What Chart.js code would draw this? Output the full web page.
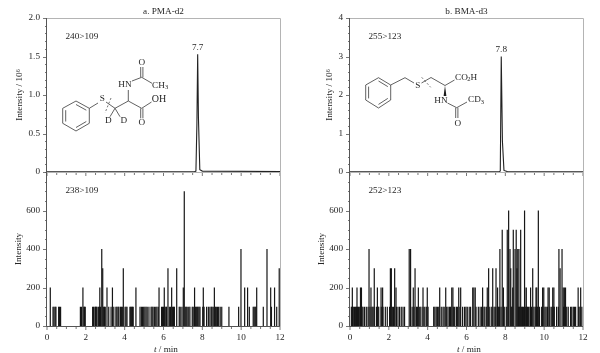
<!DOCTYPE html>
<html>
<head>
<meta charset="utf-8">
<title>PMA-d2 and BMA-d3</title>
<script src="https://cdn.jsdelivr.net/npm/chart.js@4/dist/chart.umd.min.js"></script>
<style>
  html, body { margin: 0; padding: 0; background: #fff; }
  #wrap { position: relative; width: 600px; height: 353px; overflow: hidden; }
  canvas { position: absolute; top: 0; }
</style>
</head>
<body>
<div id="wrap">
  <canvas id="pmaTop" width="300" height="353" style="left:0"></canvas>
  <canvas id="pmaBottom" width="300" height="353" style="left:0"></canvas>
  <canvas id="bmaTop" width="300" height="353" style="left:300px"></canvas>
  <canvas id="bmaBottom" width="300" height="353" style="left:300px"></canvas>
</div>
<script>
// tick labels
const xTickLabels = [0, 2, 4, 6, 8, 10, 12];
const pmaTopTicks = [0, 0.5, 1, 1.5, 2];
const bmaTopTicks = [0, 1, 2, 3, 4];
const bottomTicks = [0, 200, 400, 600];

// top traces, the labelled peak on a flat baseline
const pmaTraceTimes = [0, 7.6, 7.67, 7.72, 7.76, 7.8, 7.87, 8, 12];
const pmaTraceValues = [0.003, 0.003, 0.012, 0.62, 1.53, 0.7, 0.03, 0.012, 0.006];
const bmaTraceTimes = [0, 7.7, 7.74, 7.79, 7.85, 7.93, 8.1, 12];
const bmaTraceValues = [0.004, 0.004, 0.03, 3.0, 0.8, 0.04, 0.012, 0.008];

// lower traces, retention times, one list per count level
const pma100 = [0.31, 0.36, 0.42, 0.46, 0.6, 0.64, 0.7, 1.72, 1.78, 1.9, 1.93, 1.97, 2.35, 2.4, 2.47, 2.5, 2.54, 2.58,
  2.66, 2.7, 2.76, 2.92, 2.96, 3.0, 3.18, 3.3, 3.44, 3.55, 3.6, 3.66, 3.7, 3.78, 3.83, 3.88, 4.02, 4.07, 4.12, 4.27,
  4.31, 4.36, 4.4, 4.44, 4.79, 4.86, 4.92, 4.98, 5.04, 5.1, 5.16, 5.25, 5.36, 5.41, 5.46, 5.53, 5.6, 5.66, 5.73, 5.9,
  5.95, 6.0, 6.07, 6.12, 6.16, 6.3, 6.36, 6.47, 6.52, 6.56, 6.81, 6.86, 6.95, 7.12, 7.17, 7.22, 7.3, 7.36, 7.48, 7.53,
  7.64, 7.69, 7.74, 7.78, 7.83, 7.88, 8.02, 8.09, 8.22, 8.31, 8.39, 8.46, 8.5, 8.56, 8.67, 8.72, 8.78, 8.84, 8.92, 9.0,
  9.37, 9.87, 10.42, 10.62, 10.67, 10.72, 10.76, 11.14, 11.56, 11.83];
const pma200 = [0.17, 1.85, 2.72, 3.09, 3.37, 4.58, 5.77, 6.04, 6.42, 7.02, 7.6, 8.05, 8.62, 10.18, 10.33, 10.8, 11.52, 11.72];
const pma300 = [2.87, 3.93, 6.23, 6.68, 11.96];
const pma400 = [2.82, 9.99, 11.33];
const pma700 = [7.07];

const bma100 = [0.07, 0.12, 0.17, 0.23, 0.29, 0.33, 0.39, 0.44, 0.5, 0.62, 0.67, 0.75, 0.84, 0.93, 1.03, 1.13, 1.18, 1.24,
  1.36, 1.44, 1.48, 1.61, 1.7, 1.82, 1.92, 2.04, 2.18, 2.24, 2.39, 2.47, 2.55, 2.64, 2.73, 2.81, 3.2, 3.3, 3.42, 3.47,
  3.59, 3.65, 3.76, 3.85, 3.93, 4.02, 4.31, 4.37, 4.44, 4.5, 4.57, 4.7, 4.79, 4.85, 4.98, 5.05, 5.13, 5.18, 5.32, 5.39,
  5.48, 5.53, 5.66, 5.8, 5.9, 5.97, 6.04, 6.14, 6.21, 6.49, 6.61, 6.7, 6.78, 6.9, 6.95, 7.04, 7.2, 7.3, 7.42, 7.48, 7.58,
  7.64, 7.69, 7.78, 7.9, 7.97, 8.07, 8.3, 8.34, 8.67, 8.72, 8.76, 8.84, 8.88, 8.93, 9.05, 9.1, 9.14, 9.2, 9.27, 9.35,
  9.47, 9.54, 9.61, 9.65, 9.76, 9.87, 9.92, 10.04, 10.1, 10.17, 10.3, 10.39, 10.46, 10.52, 10.64, 10.73, 11.0, 11.07,
  11.16, 11.24, 11.36, 11.42, 11.5, 11.56, 11.62, 11.78, 11.84, 11.94];
const bma200 = [0.12, 0.36, 0.54, 0.59, 1.08, 1.41, 1.6, 1.68, 2.37, 3.26, 3.52, 3.76, 3.98, 4.62, 4.93, 5.24, 5.3, 5.6,
  5.7, 6.32, 6.38, 6.45, 6.83, 7.07, 7.6, 7.9, 8.38, 9.0, 9.08, 9.3, 9.58, 9.62, 9.92, 9.98, 10.2, 10.26, 10.44, 10.5,
  10.98, 11.04, 11.1, 11.75, 11.88];
const bma300 = [1.25, 2.08, 2.13, 2.3, 3.35, 7.14, 7.35, 7.52, 8.28, 8.6, 9.41, 10.82];
const bma400 = [0.98, 3.05, 3.12, 7.72, 8.24, 8.5, 8.64, 8.7, 10.76, 10.92];
const bma500 = [7.84, 8.1, 8.41, 8.56, 8.79];
const bma600 = [8.17, 8.99, 9.7];

const INK = '#262626';
const SERIF = '"Liberation Serif", "Times New Roman", serif';
const FONT = '9.2px ' + SERIF;

function stems(levels) {
  const pts = [];
  levels.forEach(([times, count]) => times.forEach(t => pts.push({ x: t, y: count })));
  return pts.sort((a, b) => a.x - b.x);
}

function trace(times, values) {
  return times.map((t, i) => ({ x: t, y: values[i] }));
}

function text(ctx, str, x, y, align, font) {
  ctx.font = font || FONT;
  ctx.textAlign = align || 'center';
  ctx.textBaseline = 'middle';
  ctx.fillStyle = INK;
  ctx.fillText(str, x, y);
}

function bonds(ctx, list, width) {
  ctx.beginPath();
  list.forEach(b => {
    ctx.moveTo(b[0], b[1]);
    ctx.lineTo(b[2], b[3]);
  });
  ctx.lineWidth = width || 0.8;
  ctx.strokeStyle = '#3a3a3a';
  ctx.stroke();
}

function cutMark(ctx, x1, y1, x2, y2) {
  ctx.save();
  ctx.setLineDash([2, 2]);
  bonds(ctx, [[x1, y1, x2, y2]], 0.7);
  ctx.restore();
}

// molecule sketches, in page pixels
function drawPma(ctx) {
  bonds(ctx, [
    [76, 101, 89.3, 108.3], [89.3, 108.3, 89.3, 123.3], [89.3, 123.3, 76, 131],
    [76, 131, 62.7, 123.3], [62.7, 123.3, 62.7, 108.3], [62.7, 108.3, 76, 101],
    [76, 104.5, 86.3, 110.2], [86.3, 121.5, 76, 127.5], [65.7, 121.5, 65.7, 110.2],
    [89.3, 108.3, 98, 103], [106, 102, 115, 108.3], [115, 108.3, 110, 116.7], [115, 108.3, 120, 116.7],
    [115, 108.3, 128.3, 101], [128.3, 101, 128.3, 90], [132, 81, 141.7, 77.3],
    [140.7, 77.3, 140.7, 67], [142.9, 77.3, 142.9, 67], [141.7, 77.3, 152, 83.3],
    [128.3, 101, 141.7, 108.3], [141.7, 108.3, 151.5, 102],
    [140.7, 108.3, 140.7, 118.3], [142.9, 108.3, 142.9, 118.3]
  ]);
  cutMark(ctx, 111, 98, 105, 113);
  text(ctx, 'S', 102.3, 99);
  text(ctx, 'D', 108.3, 121);
  text(ctx, 'D', 123.7, 121);
  text(ctx, 'HN', 125, 85);
  text(ctx, 'O', 141.7, 62.3);
  text(ctx, 'CH', 152, 85.7, 'left');
  text(ctx, '3', 165, 87.5, 'left', '6.5px ' + SERIF);
  text(ctx, 'OH', 159, 99.5, 'center', '10px ' + SERIF);
  text(ctx, 'O', 141.7, 122.7);
}

function drawBma(ctx) {
  bonds(ctx, [
    [378.5, 77.7, 390.7, 85], [390.7, 85, 390.7, 100], [390.7, 100, 378.5, 108],
    [378.5, 108, 365.7, 100], [365.7, 100, 365.7, 85], [365.7, 85, 378.5, 77.7],
    [378.5, 81, 387.8, 86.6], [387.8, 98.4, 378.5, 104.4], [368.6, 98.4, 368.6, 86.6],
    [390.7, 85, 405, 77.7], [405, 77.7, 414, 83], [421.5, 83, 431, 77.5], [431, 77.5, 445, 85.5],
    [445, 85.5, 454.5, 80], [447.5, 103, 456.7, 107.7], [456.7, 107.7, 467, 102],
    [455.7, 107.7, 455.7, 118], [457.9, 107.7, 457.9, 118]
  ]);
  // wedge bond
  ctx.beginPath();
  ctx.moveTo(445, 85.5);
  ctx.lineTo(443.6, 96);
  ctx.lineTo(446.4, 96);
  ctx.closePath();
  ctx.fillStyle = '#1a1a1a';
  ctx.fill();
  cutMark(ctx, 421.7, 77.3, 430.7, 87.3);
  text(ctx, 'S', 417.7, 85.7);
  text(ctx, 'CO', 455, 77.7, 'left');
  text(ctx, '2', 467.3, 79.5, 'left', '6.5px ' + SERIF);
  text(ctx, 'H', 470.5, 77.7, 'left');
  text(ctx, 'HN', 441, 101);
  text(ctx, 'CD', 468, 100, 'left');
  text(ctx, '3', 480.8, 102, 'left', '6.5px ' + SERIF);
  text(ctx, 'O', 457.7, 123.3);
}

// frame, hand sized major and minor ticks, free text
const panelArt = {
  id: 'panelArt',
  afterDraw(chart, args, opts) {
    const { ctx, chartArea: a, scales } = chart;
    ctx.save();
    ctx.lineWidth = 1;
    ctx.strokeStyle = '#b4b4b4';
    ctx.beginPath();
    ctx.moveTo(a.left, a.top + 0.5);
    ctx.lineTo(a.right + 0.5, a.top + 0.5);
    ctx.lineTo(a.right + 0.5, a.bottom);
    ctx.stroke();

    ctx.strokeStyle = '#555';
    ctx.beginPath();
    ctx.moveTo(a.left - 0.5, a.top);
    ctx.lineTo(a.left - 0.5, a.bottom + 0.5);
    ctx.lineTo(a.right, a.bottom + 0.5);
    ctx.stroke();

    ctx.lineWidth = 0.8;
    ctx.beginPath();
    scales.y.ticks.forEach(t => {
      const y = Math.round(scales.y.getPixelForValue(t.value)) + 0.5;
      ctx.moveTo(a.left, y);
      ctx.lineTo(a.left - (t.label ? 4 : 2), y);
    });
    scales.x.ticks.forEach(t => {
      const x = scales.x.getPixelForValue(t.value);
      ctx.moveTo(x, a.bottom);
      ctx.lineTo(x, a.bottom + (xTickLabels.includes(t.value) ? 4 : 3));
    });
    ctx.stroke();

    if (opts.title) text(ctx, opts.title, a.left + 116.5, 11.7);
    text(ctx, opts.transition, a.left + 18.5, opts.transitionY, 'left');
    if (opts.peak) {
      text(ctx, opts.peak, scales.x.getPixelForValue(opts.peakAt), scales.y.getPixelForValue(opts.peakTop) - 6.5);
    }
    if (opts.axisTitle) {
      const cx = (a.left + a.right) / 2;
      ctx.font = 'italic ' + FONT;
      ctx.textAlign = 'right';
      ctx.textBaseline = 'middle';
      ctx.fillStyle = INK;
      ctx.fillText('t', cx - 7, 349.5);
      text(ctx, ' / min', cx - 7, 349.5, 'left');
    }
    if (opts.molecule) {
      ctx.translate(-chart.canvas.offsetLeft, 0);
      opts.molecule(ctx);
    }
    ctx.restore();
  }
};

function panel(id, cfg) {
  const isBars = cfg.type === 'bar';
  const dataset = isBars
    ? { data: cfg.data, backgroundColor: '#161616', barThickness: 1.2, inflateAmount: 0, borderWidth: 0, grouped: false }
    : { data: cfg.data, borderColor: '#222', borderWidth: 1.1, pointRadius: 0, tension: 0, fill: false };
  new Chart(document.getElementById(id), {
    type: cfg.type,
    data: { datasets: [dataset] },
    plugins: [panelArt],
    options: {
      responsive: false,
      animation: false,
      layout: { padding: { top: cfg.top, right: 300 - cfg.left - 233, bottom: 0, left: 0 } },
      plugins: {
        legend: { display: false },
        tooltip: { enabled: false },
        panelArt: cfg.art
      },
      scales: {
        x: {
          type: 'linear',
          offset: false,
          min: 0,
          max: 12,
          grid: { display: false, drawTicks: false },
          border: { display: false },
          afterFit: s => { s.height = 353 - cfg.bottom; },
          ticks: {
            display: !!cfg.art.axisTitle,
            stepSize: 0.5,
            autoSkip: false,
            maxRotation: 0,
            padding: 6,
            color: INK,
            font: { family: SERIF, size: 9.2 },
            callback: v => xTickLabels.includes(v) ? String(v) : ''
          }
        },
        y: {
          min: 0,
          max: cfg.yMax,
          grid: { display: false, drawTicks: false },
          border: { display: false },
          afterFit: s => { s.width = cfg.left; },
          title: {
            display: true,
            text: cfg.yTitle,
            color: INK,
            font: { family: SERIF, size: 9.2 },
            padding: { top: cfg.yTitlePad, bottom: 0 }
          },
          ticks: {
            stepSize: cfg.yStep,
            autoSkip: false,
            padding: 7,
            color: INK,
            font: { family: SERIF, size: 9.2 },
            callback: cfg.yLabel
          }
        }
      }
    }
  });
}

const nearTick = (list, v) => list.some(t => Math.abs(t - v) < 1e-6);

panel('pmaTop', {
  type: 'line', left: 47, top: 18, bottom: 172, yMax: 2, yStep: 0.1,
  yTitle: 'Intensity / 10\u2076', yTitlePad: 14,
  yLabel: v => nearTick(pmaTopTicks, v) ? (Math.abs(v) < 1e-6 ? '0' : v.toFixed(1)) : '',
  data: trace(pmaTraceTimes, pmaTraceValues),
  art: { title: 'a. PMA-d2', transition: '240>109', transitionY: 36.7, peak: '7.7', peakAt: 7.76, peakTop: 1.53, molecule: drawPma }
});
panel('pmaBottom', {
  type: 'bar', left: 47, top: 172, bottom: 326, yMax: 800, yStep: 50,
  yTitle: 'Intensity', yTitlePad: 13,
  yLabel: v => nearTick(bottomTicks, v) ? String(v) : '',
  data: stems([[pma100, 100], [pma200, 200], [pma300, 300], [pma400, 400], [pma700, 700]]),
  art: { transition: '238>109', transitionY: 190.7, axisTitle: true }
});
panel('bmaTop', {
  type: 'line', left: 50, top: 18, bottom: 172, yMax: 4, yStep: 0.2,
  yTitle: 'Intensity / 10\u2076', yTitlePad: 24,
  yLabel: v => nearTick(bmaTopTicks, v) ? String(Math.round(v)) : '',
  data: trace(bmaTraceTimes, bmaTraceValues),
  art: { title: 'b. BMA-d3', transition: '255>123', transitionY: 36.7, peak: '7.8', peakAt: 7.79, peakTop: 3.0, molecule: drawBma }
});
panel('bmaBottom', {
  type: 'bar', left: 50, top: 172, bottom: 326, yMax: 800, yStep: 50,
  yTitle: 'Intensity', yTitlePad: 16,
  yLabel: v => nearTick(bottomTicks, v) ? String(v) : '',
  data: stems([[bma100, 100], [bma200, 200], [bma300, 300], [bma400, 400], [bma500, 500], [bma600, 600]]),
  art: { transition: '252>123', transitionY: 190.7, axisTitle: true }
});
</script>
</body>
</html>
